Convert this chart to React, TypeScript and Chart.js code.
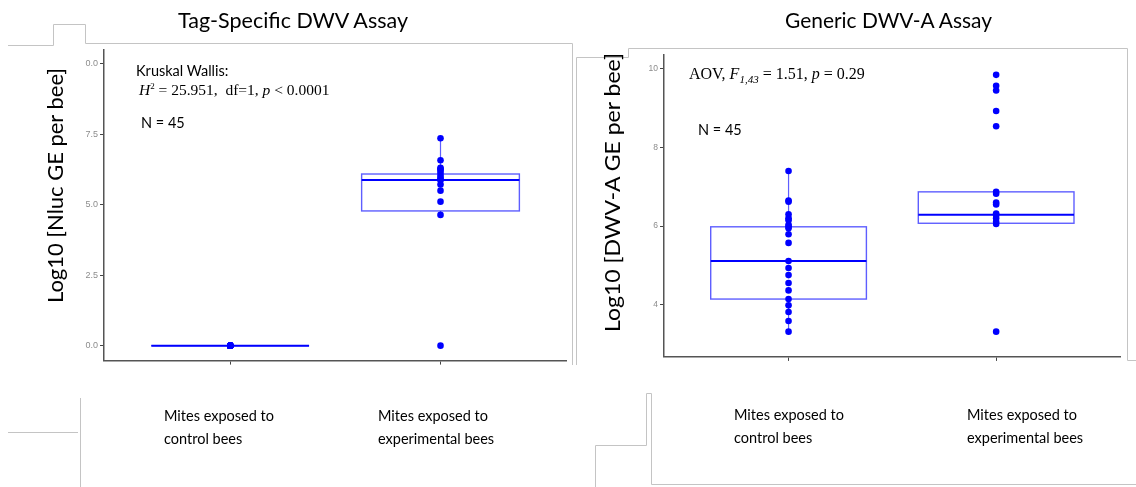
import React, { useEffect, useRef } from "react";
import { Chart, registerables } from "chart.js";

Chart.register(...registerables);

// Group labels along the x axis (two lines each)
const categoryLines: string[][] = [
  ["Mites exposed to", "control bees"],
  ["Mites exposed to", "experimental bees"],
];

// Tag-specific DWV assay: individual log10 values per group
const tagControl = [0, 0, 0, 0, 0, 0, 0, 0, 0, 0, 0, 0, 0, 0, 0, 0, 0, 0, 0, 0, 0, 0];
const tagExperimental = [7.36, 6.58, 6.31, 6.27, 6.23, 6.14, 6.04, 5.96, 5.9, 5.87, 5.72, 5.5, 5.11, 4.64, 0];
// Box summaries (control, experimental)
const tagQ1 = [0, 4.78];
const tagMedian = [0, 5.88];
const tagQ3 = [0, 6.09];
const tagWhiskerLow = [0, 4.64];
const tagWhiskerHigh = [0, 7.36];
const tagTickValues = [0, 2.5, 5, 7.5, 10];
const tagTickLabels = ["0.0", "2.5", "5.0", "7.5", "0.0"];

// Generic DWV-A assay: individual log10 values per group
const genControl = [7.4, 6.65, 6.62, 6.3, 6.2, 6.15, 6.03, 5.99, 5.94, 5.79, 5.57, 5.11, 4.93, 4.75, 4.55, 4.36, 4.14, 3.98, 3.81, 3.58, 3.31];
const genExperimental = [9.85, 9.57, 9.45, 8.93, 8.54, 6.87, 6.82, 6.6, 6.55, 6.32, 6.28, 6.2, 6.11, 6.05, 3.31];
const genQ1 = [4.14, 6.07];
const genMedian = [5.11, 6.29];
const genQ3 = [5.98, 6.87];
const genWhiskerLow = [3.31, 6.05];
const genWhiskerHigh = [7.4, 6.87];
const genTickValues = [4, 6, 8, 10];
const genTickLabels = ["4", "6", "8", "10"];

type BoxStats = { q1: number[]; median: number[]; q3: number[]; lo: number[]; hi: number[] };

const BLUE = "#0000ff";

function makeBoxPlugin(stats: BoxStats) {
  return {
    id: "boxes",
    beforeDatasetsDraw(chart: any) {
      const { ctx } = chart;
      const x = chart.scales.x;
      const y = chart.scales.y;
      ctx.save();
      stats.q1.forEach((q1: number, i: number) => {
        const pos = i + 1;
        const cx = x.getPixelForValue(pos);
        const left = x.getPixelForValue(pos - 0.375);
        const right = x.getPixelForValue(pos + 0.375);
        const yq1 = y.getPixelForValue(q1);
        const yq3 = y.getPixelForValue(stats.q3[i]);
        const ym = y.getPixelForValue(stats.median[i]);
        ctx.strokeStyle = "rgba(40,40,255,0.75)";
        ctx.lineWidth = 1.2;
        ctx.beginPath();
        ctx.moveTo(cx, y.getPixelForValue(stats.hi[i]));
        ctx.lineTo(cx, yq3);
        ctx.moveTo(cx, yq1);
        ctx.lineTo(cx, y.getPixelForValue(stats.lo[i]));
        ctx.stroke();
        ctx.lineWidth = 1.4;
        ctx.strokeRect(left, yq3, right - left, yq1 - yq3);
        ctx.strokeStyle = BLUE;
        ctx.lineWidth = 2;
        ctx.beginPath();
        ctx.moveTo(left, ym);
        ctx.lineTo(right, ym);
        ctx.stroke();
      });
      ctx.restore();
    },
  };
}

type PanelProps = {
  control: number[];
  experimental: number[];
  stats: BoxStats;
  tickValues: number[];
  tickLabels: string[];
  yMin: number;
  yMax: number;
  tickFontSize: number;
  left: number;
  top: number;
  width: number;
  height: number;
};

function BoxPanel(p: PanelProps) {
  const ref = useRef<HTMLCanvasElement>(null);
  useEffect(() => {
    if (!ref.current) return;
    const points = [
      ...p.control.map((v) => ({ x: 1, y: v })),
      ...p.experimental.map((v) => ({ x: 2, y: v })),
    ];
    const chart = new Chart(ref.current, {
      type: "scatter",
      data: {
        datasets: [
          {
            data: points,
            pointRadius: 3.3,
            pointBackgroundColor: BLUE,
            pointBorderWidth: 0,
            pointHoverRadius: 3.3,
          },
        ],
      },
      options: {
        animation: false,
        responsive: false,
        events: [],
        layout: { padding: { top: 10, right: 3, left: 0, bottom: 0 } },
        plugins: { legend: { display: false }, tooltip: { enabled: false } },
        scales: {
          x: {
            type: "linear",
            min: 0.4,
            max: 2.6,
            afterBuildTicks: (s: any) => {
              s.ticks = [{ value: 1 }, { value: 2 }];
            },
            afterFit: (s: any) => {
              s.height = 6;
            },
            ticks: { display: false },
            grid: { display: true, drawOnChartArea: false, drawTicks: true, tickLength: 4, color: "#444" },
            border: { display: true, color: "#555", width: 1.5 },
          },
          y: {
            type: "linear",
            min: p.yMin,
            max: p.yMax,
            afterBuildTicks: (s: any) => {
              s.ticks = p.tickValues.map((v) => ({ value: v }));
            },
            afterFit: (s: any) => {
              s.width = 34;
            },
            ticks: {
              padding: 2,
              color: "#8c8c8c",
              font: { family: "Liberation Sans", size: p.tickFontSize },
              callback: (_v: any, i: number) => p.tickLabels[i],
            },
            grid: { display: true, drawOnChartArea: false, drawTicks: true, tickLength: 4, color: "#444" },
            border: { display: true, color: "#555", width: 1.5 },
          },
        },
      },
      plugins: [makeBoxPlugin(p.stats)],
    } as any);
    return () => chart.destroy();
  }, []);
  return (
    <canvas
      ref={ref}
      width={p.width}
      height={p.height}
      style={{ position: "absolute", left: p.left, top: p.top, width: p.width, height: p.height }}
    />
  );
}

const sans = "Lato";
const serif = "Liberation Serif";

export default function App() {
  const frame = { fill: "none", stroke: "#c4c4c4", strokeWidth: 1 };
  return (
    <div style={{ position: "fixed", left: 0, top: 0, width: 1136, height: 487, background: "#fff", overflow: "hidden" }}>
      <BoxPanel
        control={tagControl}
        experimental={tagExperimental}
        stats={{ q1: tagQ1, median: tagMedian, q3: tagQ3, lo: tagWhiskerLow, hi: tagWhiskerHigh }}
        tickValues={tagTickValues}
        tickLabels={tagTickLabels}
        yMin={-0.53}
        yMax={10.49}
        tickFontSize={9}
        left={70}
        top={40}
        width={500}
        height={328}
      />
      <BoxPanel
        control={genControl}
        experimental={genExperimental}
        stats={{ q1: genQ1, median: genMedian, q3: genQ3, lo: genWhiskerLow, hi: genWhiskerHigh }}
        tickValues={genTickValues}
        tickLabels={genTickLabels}
        yMin={2.667}
        yMax={10.355}
        tickFontSize={8.5}
        left={630}
        top={45}
        width={494}
        height={319}
      />
      <svg width={1136} height={487} style={{ position: "absolute", left: 0, top: 0, pointerEvents: "none" }}>
        {/* slide frame lines */}
        <polyline {...frame} points="8,45.5 53.5,45.5 53.5,24.5 85.5,24.5 85.5,43.5 572.5,43.5 572.5,365" />
        <polyline {...frame} points="8,432.5 78,432.5" />
        <polyline {...frame} points="80.5,398 80.5,487" />
        <polyline {...frame} points="576.5,365 576.5,57.5 628.5,57.5 628.5,48.5 1127.5,48.5 1127.5,360.5 1136,360.5" />
        <polyline {...frame} points="595.5,487 595.5,445.5 646.5,445.5 646.5,393.5 651.5,393.5 651.5,484.5 1136,484.5" />

        {/* panel titles */}
        <text x={178} y={28} fontFamily={sans} fontSize={21.5} fill="#000" textLength={230} lengthAdjust="spacingAndGlyphs">
          Tag-Specific DWV Assay
        </text>
        <text x={785} y={28} fontFamily={sans} fontSize={21.5} fill="#000" textLength={207} lengthAdjust="spacingAndGlyphs">
          Generic DWV-A Assay
        </text>

        {/* y axis titles */}
        <text
          transform="translate(63,185.5) rotate(-90)"
          textAnchor="middle"
          fontFamily={sans}
          fontSize={22}
          fill="#000"
          textLength={235}
          lengthAdjust="spacingAndGlyphs"
        >
          Log10 [Nluc GE per bee]
        </text>
        <text
          transform="translate(620,192.5) rotate(-90)"
          textAnchor="middle"
          fontFamily={sans}
          fontSize={22}
          fill="#000"
          textLength={279}
          lengthAdjust="spacingAndGlyphs"
        >
          Log10 [DWV-A GE per bee]
        </text>

        {/* statistics */}
        <text x={136} y={76} fontFamily={sans} fontSize={14.5} fill="#000">Kruskal Wallis:</text>
        <text x={139} y={95} fontFamily={serif} fontSize={15.5} fill="#000" style={{ whiteSpace: "pre" }}>
          <tspan fontStyle="italic">H</tspan>
          <tspan dy={-6} fontSize={9}>2</tspan>
          <tspan dy={6}>{" = 25.951,  df=1, "}</tspan>
          <tspan fontStyle="italic">p</tspan>
          <tspan>{" < 0.0001"}</tspan>
        </text>
        <text x={141} y={128} fontFamily={sans} fontSize={14.5} fill="#000">N = 45</text>

        <text x={689} y={79} fontFamily={serif} fontSize={16} fill="#000" style={{ whiteSpace: "pre" }}>
          <tspan>{"AOV, "}</tspan>
          <tspan fontStyle="italic">F</tspan>
          <tspan dy={4} fontSize={11} fontStyle="italic">1,43</tspan>
          <tspan dy={-4}>{" = 1.51, "}</tspan>
          <tspan fontStyle="italic">p</tspan>
          <tspan>{" = 0.29"}</tspan>
        </text>
        <text x={698} y={135} fontFamily={sans} fontSize={14.5} fill="#000">N = 45</text>

        {/* group labels */}
        {[164, 378].map((x, i) => (
          <text key={"l" + i} x={x} y={421} fontFamily={sans} fontSize={14.5} fill="#000">
            <tspan x={x}>{categoryLines[i][0]}</tspan>
            <tspan x={x} dy={23}>{categoryLines[i][1]}</tspan>
          </text>
        ))}
        {[734, 967].map((x, i) => (
          <text key={"r" + i} x={x} y={420} fontFamily={sans} fontSize={14.5} fill="#000">
            <tspan x={x}>{categoryLines[i][0]}</tspan>
            <tspan x={x} dy={23}>{categoryLines[i][1]}</tspan>
          </text>
        ))}
      </svg>
    </div>
  );
}
